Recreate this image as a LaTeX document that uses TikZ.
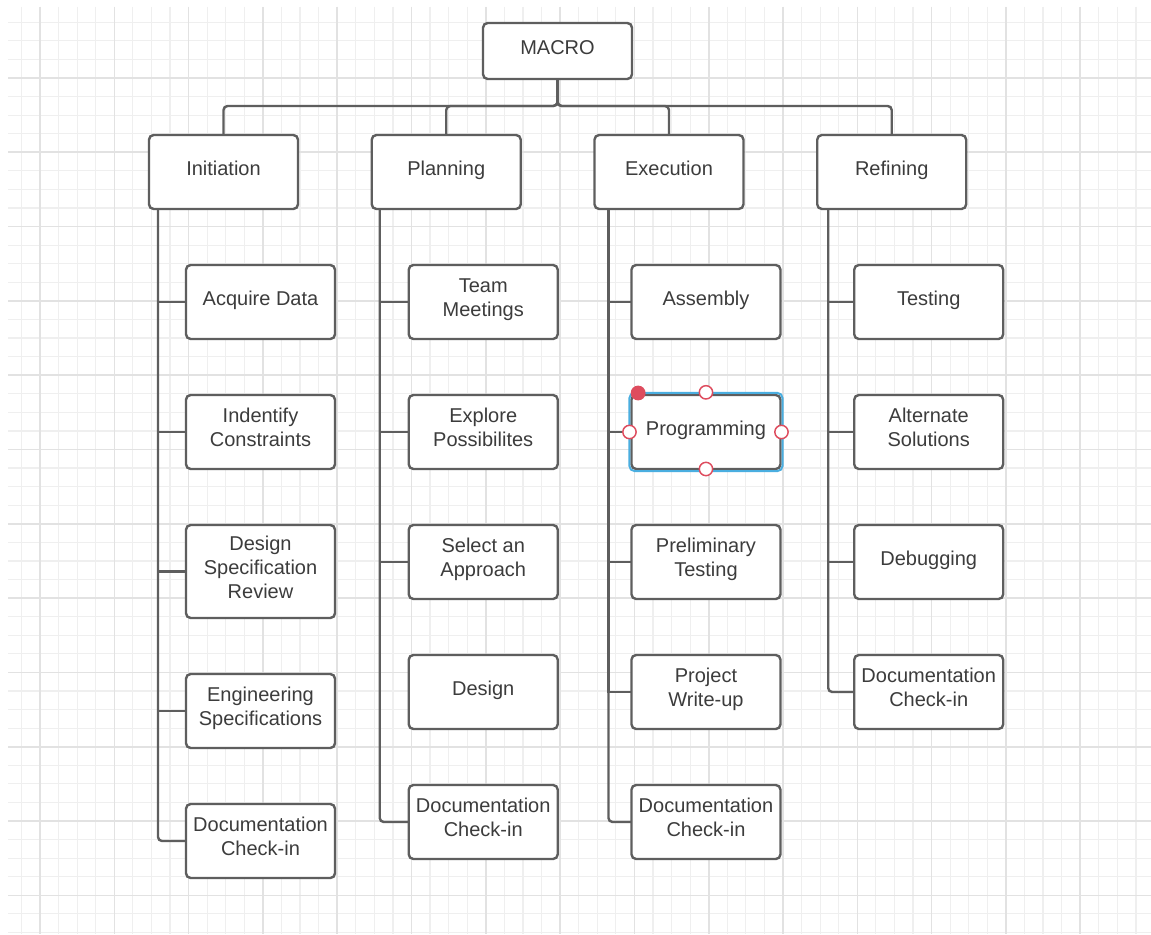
\documentclass[tikz,border=0pt]{standalone}
\usepackage{fontspec}
\setmainfont{Liberation Sans}
\usetikzlibrary{positioning}
\definecolor{ink}{HTML}{3C3C3C}
\definecolor{edge}{HTML}{5E5E5E}
\definecolor{minorline}{HTML}{EFEFEF}
\definecolor{majorline}{HTML}{E2E2E2}
\definecolor{selblue}{HTML}{4AAEE0}
\definecolor{handlered}{HTML}{DE4C5E}
\tikzset{
  box/.style={rectangle, draw=edge, line width=1.8pt, rounded corners=3.5pt, fill=white, outer sep=0pt,
    minimum width=111.75pt, minimum height=55.5pt, align=center, text=ink, font=\fontsize{15}{18}\selectfont, inner sep=2pt,
    execute at begin node={\rule{0pt}{12.6pt}}, execute at end node={\rule[-7pt]{0pt}{7pt}}},
  link/.style={draw=edge, line width=1.8pt},
  minor/.style={minorline, line width=0.9pt},
  major/.style={majorline, line width=1.2pt},
  sel/.style={selblue, line width=1.5pt, rounded corners=4pt},
  handle/.style={circle, draw=handlered, fill=white, line width=1.1pt, minimum size=10pt, inner sep=0pt},
  grip/.style={handle, fill=handlered}
}

\begin{document}
\begin{tikzpicture}[x=0.75pt, y=-0.75pt, node distance=42pt and 55.3pt]
% grid paper
\fill[white] (0,0) rectangle (1151,934);
\begin{scope}
\clip (8,7) rectangle (1151,934);
\foreach \i in {0,...,61} \draw[minor] ({21.4+18.575*\i},7) -- ++(0,927);
\foreach \j in {0,...,50} \draw[minor] (8,{3.7+18.575*\j}) -- ++(1143,0);
\foreach \i in {0,...,15} \draw[major] ({40+74.3*\i},7) -- ++(0,927);
\foreach \j in {0,...,12} \draw[major] (8,{3.7+74.3*\j}) -- ++(1143,0);
\end{scope}

% top
\node[box, minimum height=42pt] (macro) at (557.5,51) {MACRO};
\node[box] (init) at (223.5,172) {Initiation};
\node[box, right=of init] (plan) {Planning};
\node[box, right=of plan] (exec) {Execution};
\node[box, right=of exec] (refine) {Refining};

% initiation
\node[box, below=of init, xshift=27.75pt] (i1) {Acquire Data};
\node[box, below=of i1] (i2) {Indentify\\Constraints};
\node[box, below=of i2, minimum height=69.75pt] (i3) {Design\\Specification\\Review};
\node[box, below=of i3] (i4) {Engineering\\Specifications};
\node[box, below=of i4] (i5) {Documentation\\Check-in};

% planning
\node[box, below=of plan, xshift=27.75pt] (p1) {Team\\Meetings};
\node[box, below=of p1] (p2) {Explore\\Possibilites};
\node[box, below=of p2] (p3) {Select an\\Approach};
\node[box, below=of p3] (p4) {Design};
\node[box, below=of p4] (p5) {Documentation\\Check-in};

% execution
\node[box, below=of exec, xshift=27.75pt] (e1) {Assembly};
\node[box, below=of e1] (e2) {Programming};
\node[box, below=of e2] (e3) {Preliminary\\Testing};
\node[box, below=of e3] (e4) {Project\\Write-up};
\node[box, below=of e4] (e5) {Documentation\\Check-in};

% refining
\node[box, below=of refine, xshift=27.75pt] (r1) {Testing};
\node[box, below=of r1] (r2) {Alternate\\Solutions};
\node[box, below=of r2] (r3) {Debugging};
\node[box, below=of r3] (r4) {Documentation\\Check-in};

\foreach \p in {init,plan,exec,refine}
  \draw[link, rounded corners=3pt] (macro.south) -- ++(0,27) -| (\p.north);

\foreach \c in {i1,i2,i3,i4} \draw[link] ([xshift=6.75pt]init.south west) |- (\c.west);
\draw[link, rounded corners=3pt] ([xshift=6.75pt]init.south west) |- (i5.west);
\foreach \c in {p1,p2,p3} \draw[link] ([xshift=6pt]plan.south west) |- (\c.west);
\draw[link, rounded corners=3pt] ([xshift=6pt]plan.south west) |- (p5.west);
\foreach \c in {e1,e2,e3,e4} \draw[link] ([xshift=10.5pt]exec.south west) |- (\c.west);
\draw[link, rounded corners=3pt] ([xshift=10.5pt]exec.south west) |- (e5.west);
\foreach \c in {r1,r2,r3} \draw[link] ([xshift=8.25pt]refine.south west) |- (\c.west);
\draw[link, rounded corners=3pt] ([xshift=8.25pt]refine.south west) |- (r4.west);

% selection on Programming
\draw[sel] ([shift={(-1.6pt,-1.6pt)}]e2.south west) rectangle ([shift={(1.6pt,1.6pt)}]e2.north east);
\node[grip] (g0) at ([xshift=5pt,yshift=1.5pt]e2.north west) {};
\node[handle] (g1) at ([yshift=2pt]e2.north) {};
\node[handle] (g2) at ([xshift=-1.5pt]e2.west) {};
\node[handle] (g3) at ([xshift=0.75pt]e2.east) {};
\node[handle] (g4) at (e2.south) {};
\end{tikzpicture}
\end{document}
